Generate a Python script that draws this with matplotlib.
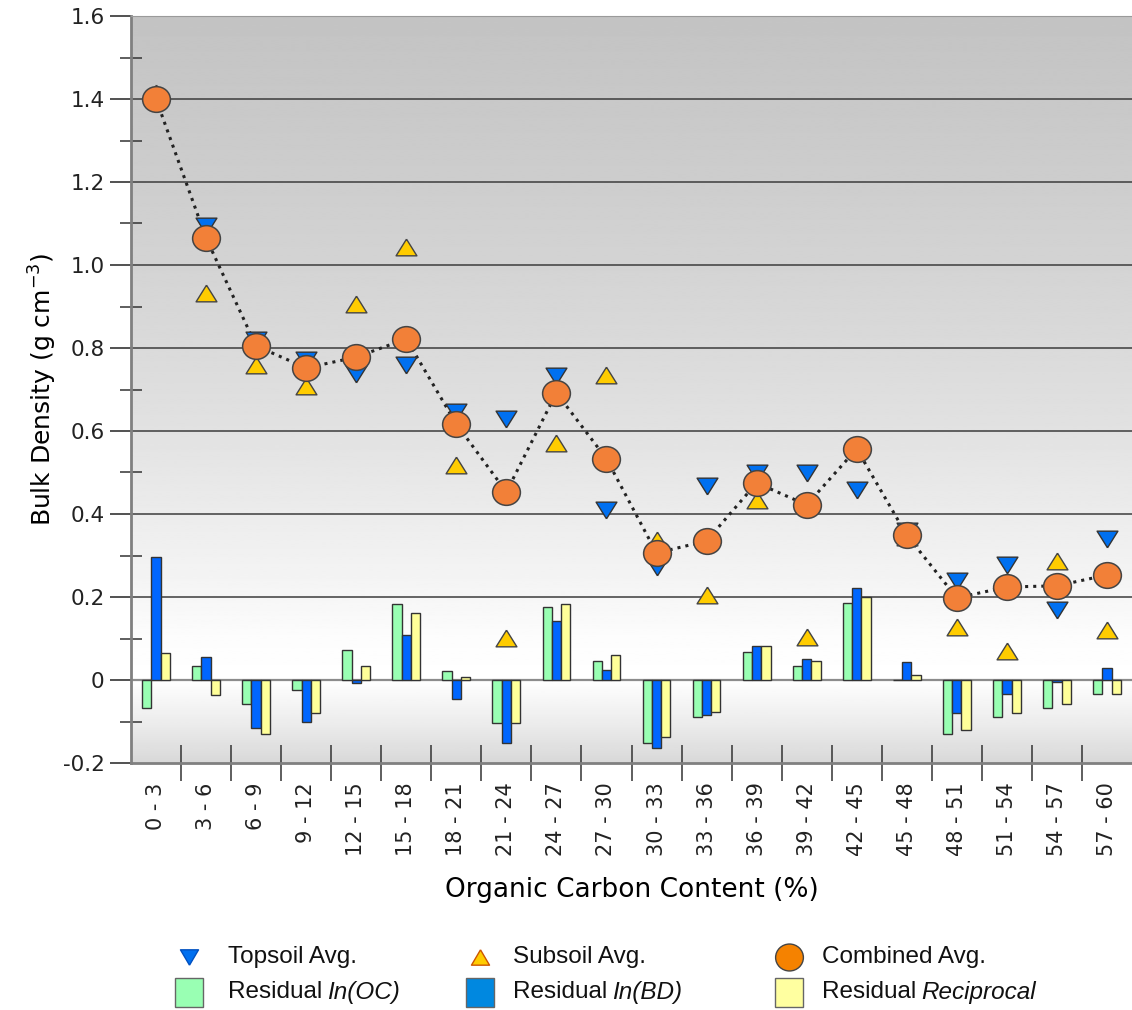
import numpy as np
import matplotlib
matplotlib.use('Agg')
import matplotlib.pyplot as plt
from matplotlib.path import Path
from matplotlib.patches import Rectangle
from matplotlib.ticker import FixedLocator, FuncFormatter

plt.rcParams['font.family'] = ['DejaVu Sans']

# data
categories = ['0 - 3', '3 - 6', '6 - 9', '9 - 12', '12 - 15', '15 - 18', '18 - 21',
              '21 - 24', '24 - 27', '27 - 30', '30 - 33', '33 - 36', '36 - 39',
              '39 - 42', '42 - 45', '45 - 48', '48 - 51', '51 - 54', '54 - 57', '57 - 60']

topsoil = [1.39, 1.095, 0.82, 0.77, 0.737, 0.76, 0.646, 0.63, 0.733, 0.41,
           0.272, 0.467, 0.499, 0.50, 0.457, 0.36, 0.238, 0.277, 0.168, 0.34]
subsoil = [1.414, 0.933, 0.76, 0.708, 0.906, 1.043, 0.518, 0.101, 0.571, 0.735,
           0.337, 0.205, 0.434, 0.104, 0.56, 0.345, 0.128, 0.07, 0.287, 0.12]
combined = [1.40, 1.065, 0.805, 0.752, 0.778, 0.822, 0.617, 0.453, 0.692, 0.533,
            0.306, 0.335, 0.475, 0.422, 0.557, 0.349, 0.198, 0.224, 0.227, 0.253]

res_ln_oc = [-0.068, 0.034, -0.058, -0.024, 0.073, 0.183, 0.021, -0.103, 0.177, 0.046,
             -0.151, -0.090, 0.068, 0.034, 0.186, 0.001, -0.129, -0.090, -0.068, -0.033]
res_ln_bd = [0.296, 0.056, -0.116, -0.102, -0.007, 0.108, -0.046, -0.151, 0.142, 0.024,
             -0.165, -0.085, 0.081, 0.051, 0.221, 0.043, -0.080, -0.033, -0.006, 0.028]
res_recip = [0.064, -0.036, -0.129, -0.080, 0.034, 0.161, 0.008, -0.103, 0.182, 0.060,
             -0.138, -0.078, 0.081, 0.046, 0.199, 0.011, -0.121, -0.080, -0.058, -0.033]

x = np.arange(len(categories))

fig = plt.figure(figsize=(11.32, 10.10), dpi=100)
ax = fig.add_axes([131/1132, 247/1010, 1 - 131/1132, 747/1010])

# grey background gradient (dark at top, white near zero, grey at bottom)
stops_v = [-0.2, -0.1, 0.0, 0.1, 0.2, 0.4, 0.6, 0.8, 1.0, 1.2, 1.4, 1.6]
stops_g = [0.85, 0.93, 1.0, 0.99, 0.965, 0.925, 0.885, 0.855, 0.83, 0.805, 0.785, 0.765]
yy = np.linspace(-0.2, 1.6, 400)
grad = np.interp(yy, stops_v, stops_g)[:, None]
ax.imshow(grad, extent=[-0.5, len(categories) - 0.5, -0.2, 1.6], origin='lower',
          aspect='auto', cmap='gray', vmin=0, vmax=1, zorder=0, interpolation='bilinear')

for g in [0.2, 0.4, 0.6, 0.8, 1.0, 1.2, 1.4]:
    ax.axhline(g, color='#3c3c3c', lw=1.1, zorder=1)
ax.axhline(0, color='#8c8c8c', lw=1.6, zorder=1)

w = 0.185
ax.bar(x - w, res_ln_oc, w, color='#99ffb3', edgecolor='#333333', lw=1, zorder=2)
ax.bar(x, res_ln_bd, w, color='#0066ff', edgecolor='#333333', lw=1, zorder=2)
ax.bar(x + w, res_recip, w, color='#ffff99', edgecolor='#333333', lw=1, zorder=2)

ax.plot(x, combined, linestyle=':', color='#222222', lw=2.2, zorder=3)

tri_up = Path([(0, 0.8), (-1, -0.8), (1, -0.8), (0, 0.8)])
tri_dn = Path([(0, -0.8), (-1, 0.8), (1, 0.8), (0, -0.8)])
ell = Path.unit_circle().transformed(matplotlib.transforms.Affine2D().scale(1.08, 1.0))

ax.plot(x, subsoil, linestyle='none', marker=tri_up, markersize=15, mfc='#ffcc00',
        mec='#444444', mew=1, zorder=4)
ax.plot(x, topsoil, linestyle='none', marker=tri_dn, markersize=15, mfc='#0070f0',
        mec='#333333', mew=1, zorder=4)
ax.plot(x, combined, linestyle='none', marker=ell, markersize=20, mfc='#f28038',
        mec='#444444', mew=1.1, zorder=5)

ax.set_xlim(-0.5, len(categories) - 0.5)
ax.set_ylim(-0.2, 1.6)

ax.set_yticks(np.arange(-0.2, 1.61, 0.2))
ax.yaxis.set_minor_locator(FixedLocator(np.arange(-0.1, 1.6, 0.2)))
ax.yaxis.set_major_formatter(FuncFormatter(lambda v, p: '0' if abs(v) < 1e-9 else f'{v:.1f}'.replace('\u2212', '-')))
ax.tick_params(axis='y', which='major', direction='out', length=15, width=1.2,
               color='#333333', labelsize=15.5, labelcolor='#222222', pad=4)
ax.tick_params(axis='y', which='minor', direction='inout', length=16, width=1.1, color='#333333')

ax.set_xticks(x)
ax.set_xticklabels(categories, rotation=90)
ax.xaxis.set_minor_locator(FixedLocator(np.arange(0.5, len(categories) - 1, 1)))
ax.tick_params(axis='x', which='major', length=0, labelsize=15, labelcolor='#222222', pad=14)
ax.tick_params(axis='x', which='minor', direction='inout', length=26, width=1.1, color='#333333')

for s in ['left', 'bottom']:
    ax.spines[s].set_color('#808080')
    ax.spines[s].set_linewidth(2)
ax.spines['top'].set_color('#9a9a9a')
ax.spines['right'].set_visible(False)

ax.set_ylabel('Bulk Density (g cm$^{-3}$)', fontsize=18, labelpad=3)
ax.set_xlabel('Organic Carbon Content (%)', fontsize=19, labelpad=15)

# legend drawn by hand on an overlay in pixel units
lax = fig.add_axes([0, 0, 1, 1], zorder=10)
lax.set_xlim(0, 1132)
lax.set_ylim(1010, 0)
lax.axis('off')

leg_dn = Path([(0, -0.85), (-1, 0.85), (1, 0.85), (0, -0.85)])
leg_up = Path([(0, 0.85), (-1, -0.85), (1, -0.85), (0, 0.85)])
leg_ell = Path.unit_circle().transformed(matplotlib.transforms.Affine2D().scale(1.0, 0.97))
col_mark = [189, 480, 789]
col_text = [228, 513, 822]
row_y = [957, 992]
leg_font = dict(fontfamily='Liberation Sans', fontsize=17.5, va='center', ha='left', color='#111111')

lax.plot(col_mark[0], row_y[0], marker=leg_dn, markersize=13, mfc='#0070f0', mec='#0050c0', ls='none')
lax.plot(col_mark[1], row_y[0], marker=leg_up, markersize=13, mfc='#ffcc00', mec='#cc5500', ls='none')
lax.plot(col_mark[2], row_y[0], marker=leg_ell, markersize=20, mfc='#f58200', mec='#444444', ls='none')
patch_cols = ['#99ffb3', '#0088e0', '#ffffa0']
for cx, pc in zip(col_mark, patch_cols):
    lax.add_patch(Rectangle((cx - 14, row_y[1] - 14.5), 28, 29, facecolor=pc, edgecolor='#666666', lw=1))

for cx, label in zip(col_text, ['Topsoil Avg.', 'Subsoil Avg.', 'Combined Avg.']):
    lax.text(cx, row_y[0], label, **leg_font)

fig.canvas.draw()
r = fig.canvas.get_renderer()
for cx, it in zip(col_text, ['In(OC)', 'In(BD)', 'Reciprocal']):
    t = lax.text(cx, row_y[1], 'Residual', **leg_font)
    bb = t.get_window_extent(r)
    x_end = lax.transData.inverted().transform((bb.x1, bb.y0))[0]
    lax.text(x_end + 5, row_y[1], it, fontstyle='italic', **leg_font)

fig.savefig('out.png', dpi=100)
